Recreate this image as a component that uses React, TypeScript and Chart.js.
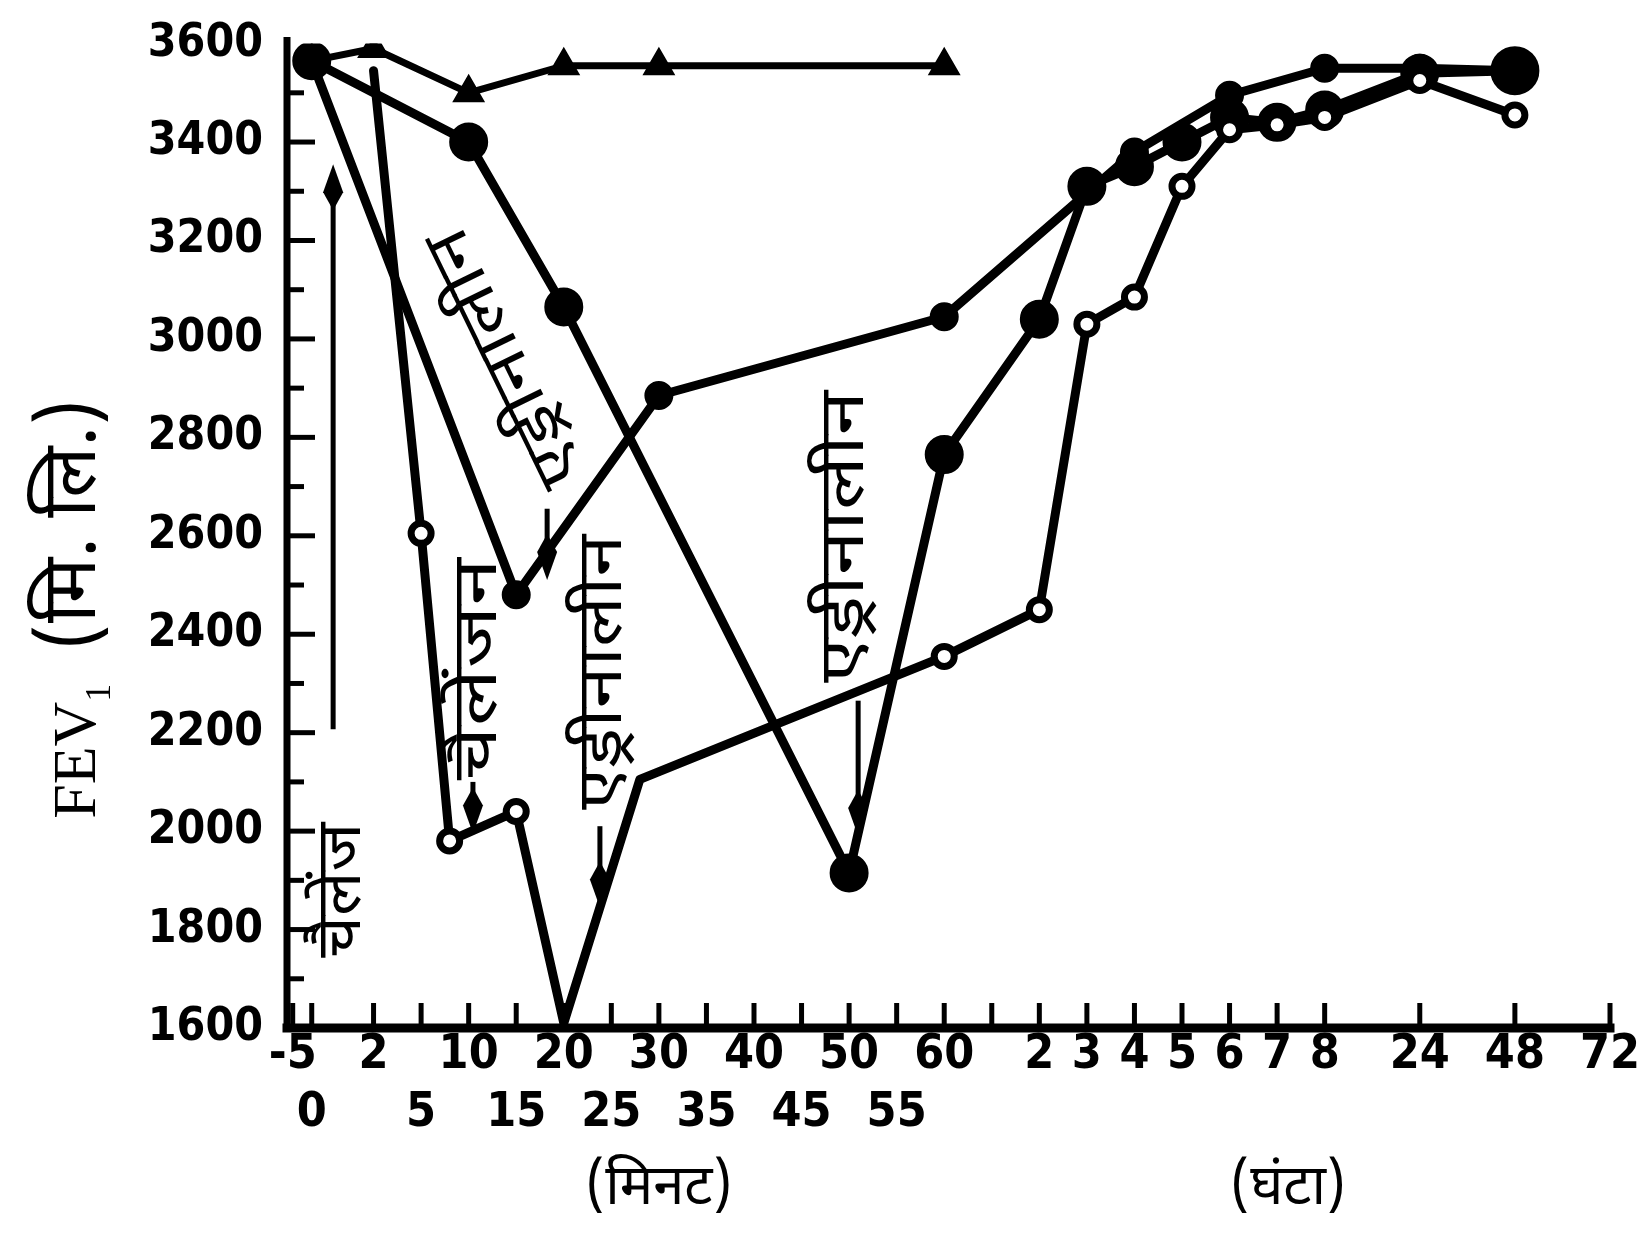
import { useEffect, useRef } from 'react';
import { Chart, registerables } from 'chart.js';

Chart.register(...registerables);

// Time axis of the figure is broken and uneven: minutes first, then hours.
// Each tick sits in a "slot" on a plain linear scale.
const minuteTicks = [-5, 0, 2, 5, 10, 15, 20, 25, 30, 35, 40, 45, 50, 55, 60];
const minuteSlots = [-1.7, -1.3, 0, 1, 2, 3, 4, 5, 6, 7, 8, 9, 10, 11, 12];
const hourTicks = [1, 2, 3, 4, 5, 6, 7, 8, 24, 48, 72];
const hourSlots = [13, 14, 15, 16, 17, 18, 19, 20, 22, 24, 26];
const hourLabels = ['', '2', '3', '4', '5', '6', '7', '8', '24', '48', '72'];

// FEV1 (ml). Times: plain = minutes, 'h' = hours
const triangleTimes = ['0', '2', '10', '20', '30', '60'];
const triangleValues = [3565, 3590, 3500, 3555, 3555, 3555];

const bigDotTimes = ['0', '10', '20', '50', '60', '2h', '3h', '4h', '5h', '6h', '7h', '8h', '24h', '48h'];
const bigDotValues = [3565, 3400, 3065, 1915, 2765, 3040, 3310, 3350, 3400, 3450, 3440, 3465, 3540, 3545];

const smallDotTimes = ['0', '15', '30', '60', '4h', '6h', '8h', '24h', '48h'];
const smallDotValues = [3565, 2480, 2885, 3045, 3380, 3495, 3550, 3550, 3545];

const ringTimes = ['2', '5', '8', '15', '20', '28', '60', '2h', '3h', '4h', '5h', '6h', '7h', '8h', '24h', '48h'];
const ringValues = [3545, 2605, 1980, 2040, 1610, 2105, 2355, 2450, 3030, 3085, 3310, 3425, 3435, 3450, 3525, 3455];

// labels written inside the plot: [text, slot, FEV1, angle, length in px]
const notes: [string, number, number, number, number][] = [
  ['चैलेंज', -0.52, 1880, -90, 135],
  ['एड्रीनालीन', 2.89, 2968, -116, 280],
  ['चैलेंजन', 2.34, 2329, -90, 222],
  ['एड्रीनालीन', 4.97, 2323, -90, 275],
  ['एड्रीनालीन', 10.05, 2598, -90, 292],
];
// arrows: [slot, from FEV1, to FEV1]
const arrows: [number, number, number][] = [
  [-0.85, 2207, 3355],
  [3.65, 2655, 2510],
  [2.09, 2100, 1995],
  [4.76, 2010, 1845],
  [10.19, 2265, 1990],
];

const allSlots = [...minuteSlots, ...hourSlots];

function interp(v: number, xs: number[], ys: number[]) {
  for (let i = 0; i < xs.length - 1; i++) {
    if (v <= xs[i + 1]) {
      return ys[i] + ((v - xs[i]) / (xs[i + 1] - xs[i])) * (ys[i + 1] - ys[i]);
    }
  }
  return ys[ys.length - 1];
}

function slotOf(key: string) {
  if (key.endsWith('h')) return interp(parseFloat(key), hourTicks, hourSlots);
  return interp(parseFloat(key), minuteTicks, minuteSlots);
}

const toPoints = (times: string[], values: number[]) =>
  times.map((t, i) => ({ x: slotOf(t), y: values[i] }));

function tickLabel(i: number): string[] {
  if (i < minuteTicks.length) {
    const s = String(minuteTicks[i]);
    return i % 2 === 0 ? [s] : ['', s];
  }
  return [hourLabels[i - minuteTicks.length]];
}

const NUM_FONT = "'DejaVu Sans Condensed', 'DejaVu Sans', sans-serif";
const HI_FONT = "'Noto Sans Devanagari', 'Lohit Devanagari', 'Noto Sans', sans-serif";
const SERIF = "'Liberation Serif', 'DejaVu Serif', serif";

const decorations = {
  id: 'decorations',
  afterDraw(chart: any) {
    const { ctx, chartArea: a, scales } = chart;
    const x = scales.x;
    const y = scales.y;
    ctx.save();
    ctx.strokeStyle = '#000';
    ctx.fillStyle = '#000';

    const line = (x1: number, y1: number, x2: number, y2: number) => {
      ctx.beginPath();
      ctx.moveTo(x1, y1);
      ctx.lineTo(x2, y2);
      ctx.stroke();
    };

    // axes
    ctx.lineCap = 'square';
    ctx.lineWidth = 7;
    line(a.left, a.top - 3, a.left, a.bottom);
    ctx.lineWidth = 9;
    line(a.left, a.bottom, a.right, a.bottom);

    // inward ticks
    ctx.lineWidth = 5;
    ctx.lineCap = 'butt';
    for (let v = 1700; v <= 3500; v += 100) {
      const py = y.getPixelForValue(v);
      line(a.left, py, a.left + (v % 200 === 0 ? 28 : 17), py);
    }
    for (const s of allSlots) {
      const px = x.getPixelForValue(s);
      line(px, a.bottom, px, a.bottom - 25);
    }

    // arrows
    for (const [s, from, to] of arrows) {
      const px = x.getPixelForValue(s);
      const y1 = y.getPixelForValue(from);
      const y2 = y.getPixelForValue(to);
      const dir = y2 > y1 ? 1 : -1;
      ctx.lineWidth = 5;
      line(px, y1, px, y2 - dir * 20);
      ctx.beginPath();
      ctx.moveTo(px, y2);
      ctx.lineTo(px - 10, y2 - dir * 28);
      ctx.lineTo(px, y2 - dir * 46);
      ctx.lineTo(px + 10, y2 - dir * 28);
      ctx.closePath();
      ctx.fill();
    }

    // rotated notes, stretched along their reading direction
    ctx.textAlign = 'center';
    ctx.textBaseline = 'middle';
    ctx.font = `62px ${HI_FONT}`;
    for (const [text, s, v, ang, len] of notes) {
      const w = ctx.measureText(text).width;
      ctx.save();
      ctx.translate(x.getPixelForValue(s), y.getPixelForValue(v));
      ctx.rotate((ang * Math.PI) / 180);
      ctx.scale(len / w, 1);
      ctx.fillText(text, 0, 0);
      ctx.restore();
    }

    // x titles
    ctx.font = `56px ${HI_FONT}`;
    ctx.fillText('(मिनट)', x.getPixelForValue(6.0), a.bottom + 166);
    ctx.fillText('(घंटा)', x.getPixelForValue(19.23), a.bottom + 166);

    // y title: FEV1 (मि. लि.)
    ctx.save();
    ctx.translate(70, 609);
    ctx.rotate(-Math.PI / 2);
    ctx.textAlign = 'left';
    ctx.textBaseline = 'alphabetic';
    ctx.font = `62px ${SERIF}`;
    const w1 = ctx.measureText('FEV').width;
    ctx.font = `36px ${SERIF}`;
    const w2 = ctx.measureText('1').width;
    ctx.font = `76px ${HI_FONT}`;
    const w3 = ctx.measureText(' (मि. लि.)').width;
    const gap = 14;
    let cx = -(w1 + w2 + gap + w3) / 2;
    ctx.font = `62px ${SERIF}`;
    ctx.fillText('FEV', cx, 25);
    cx += w1;
    ctx.font = `36px ${SERIF}`;
    ctx.fillText('1', cx, 40);
    cx += w2 + gap;
    ctx.font = `76px ${HI_FONT}`;
    ctx.fillText(' (मि. लि.)', cx, 25);
    ctx.restore();

    ctx.restore();
  },
};

export default function App() {
  const canvasRef = useRef<HTMLCanvasElement>(null);
  const chartRef = useRef<Chart | null>(null);

  useEffect(() => {
    document.body.style.margin = '0';
    if (!canvasRef.current) return;
    if (chartRef.current) chartRef.current.destroy();
    const ctx = canvasRef.current.getContext('2d');
    if (!ctx) return;

    const base = {
      borderColor: '#000',
      borderWidth: 9,
      tension: 0,
      borderJoinStyle: 'round' as const,
      borderCapStyle: 'round' as const,
      pointBorderColor: '#000',
      pointBackgroundColor: '#000',
    };

    chartRef.current = new Chart(ctx, {
      type: 'line',
      data: {
        datasets: [
          {
            ...base,
            data: toPoints(ringTimes, ringValues),
            pointStyle: 'circle',
            // no ring where the line only turns (start, dip, bend)
            pointRadius: (c: any) => ([0, 4, 5].includes(c.dataIndex) ? 0 : 10),
            pointBorderWidth: 7,
            pointBackgroundColor: '#fff',
          },
          {
            ...base,
            data: toPoints(smallDotTimes, smallDotValues),
            pointStyle: 'circle',
            pointRadius: 10,
          },
          {
            ...base,
            data: toPoints(bigDotTimes, bigDotValues),
            pointStyle: 'circle',
            pointRadius: (c: any) => (c.dataIndex === bigDotValues.length - 1 ? 20 : 15),
          },
          {
            ...base,
            borderWidth: 7,
            data: toPoints(triangleTimes, triangleValues),
            pointStyle: 'triangle',
            pointRadius: 12,
          },
        ],
      },
      options: {
        animation: false,
        responsive: true,
        maintainAspectRatio: false,
        layout: { padding: { top: 40, right: 31, left: 0, bottom: 0 } },
        plugins: {
          legend: { display: false },
          tooltip: { enabled: false },
        },
        scales: {
          x: {
            type: 'linear',
            min: -1.82,
            max: 26,
            grid: { display: false },
            border: { display: false },
            afterBuildTicks: (scale: any) => {
              scale.ticks = allSlots.map((value) => ({ value }));
            },
            afterFit: (scale: any) => {
              scale.height = 208;
            },
            ticks: {
              autoSkip: false,
              maxRotation: 0,
              minRotation: 0,
              padding: -9,
              color: '#000',
              font: { family: NUM_FONT, size: 48, weight: 'bold', lineHeight: 1.2 },
              callback: (_v: any, i: number) => tickLabel(i),
            },
          },
          y: {
            min: 1600,
            max: 3600,
            grid: { display: false },
            border: { display: false },
            afterFit: (scale: any) => {
              scale.width = 287;
            },
            ticks: {
              stepSize: 200,
              padding: 16,
              color: '#000',
              font: { family: NUM_FONT, size: 46, weight: 'bold' },
              callback: (v: any) => String(v),
            },
          },
        },
      },
      plugins: [decorations],
    } as any);

    return () => {
      if (chartRef.current) {
        chartRef.current.destroy();
        chartRef.current = null;
      }
    };
  }, []);

  return (
    <div style={{ width: 1641, height: 1236, position: 'relative', background: '#fff' }}>
      <canvas ref={canvasRef}></canvas>
    </div>
  );
}
